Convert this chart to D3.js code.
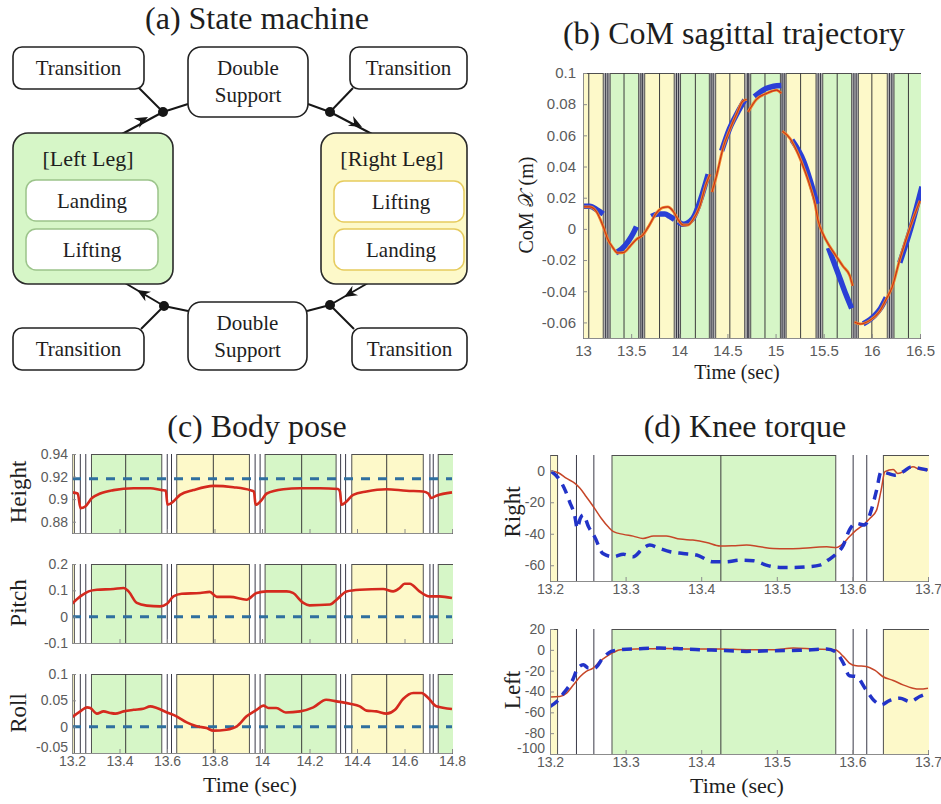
<!DOCTYPE html>
<html>
<head>
<meta charset="utf-8">
<script src="https://cdn.jsdelivr.net/npm/d3@7"></script>
<style>
  html, body { margin: 0; padding: 0; background: #fff; }
  svg { display: block; }
</style>
</head>
<body>
<svg id="fig" width="941" height="804"></svg>
<script>
// ---------------- gait phase timing (shared by panels b, c, d) ----------------
const phaseLeg   = ["right", "left", "right", "left", "right", "left", "right", "left", "right", "left"];
const phaseStart = [12.900, 13.282, 13.641, 14.013, 14.378, 14.742, 15.110, 15.490, 15.860, 16.230];
const phaseEnd   = [13.210, 13.578, 13.947, 14.312, 14.679, 15.050, 15.420, 15.790, 16.160, 16.600];
const phaseMid   = [13.060, 13.426, 13.795, 14.167, 14.525, 14.890, 15.260, 15.640, 16.000, 16.380];
const switchTimes = [13.235, 13.258, 13.601, 13.619, 13.971, 13.992, 14.331, 14.352, 14.707, 14.721,
                     15.068, 15.090, 15.443, 15.467, 15.813, 15.837, 16.183, 16.207];

// ---------------- (a) state machine labels ----------------
const transitionLabel = "Transition";
const doubleSupportLines = ["Double", "Support"];
const leftLegLabel = "[Left Leg]";
const rightLegLabel = "[Right Leg]";
const leftLegStates = ["Landing", "Lifting"];
const rightLegStates = ["Lifting", "Landing"];

// ---------------- (b) CoM sagittal trajectory ----------------
const comXTicks = [13, 13.5, 14, 14.5, 15, 15.5, 16, 16.5];
const comXTickLabels = ["13", "13.5", "14", "14.5", "15", "15.5", "16", "16.5"];
const comYTicks = [0.1, 0.08, 0.06, 0.04, 0.02, 0, -0.02, -0.04, -0.06];
const comYTickLabels = ["0.1", "0.08", "0.06", "0.04", "0.02", "0", "-0.02", "-0.04", "-0.06"];
// planned CoM path, one list per step
const comPlanned = [
  [[13.00, .0141], [13.07, .0141], [13.14, .0110], [13.21, .0015], [13.26, -.0070], [13.31, -.0120],
   [13.36, -.0154], [13.42, -.0152], [13.49, -.0110], [13.55, -.0070], [13.62, -.0040], [13.69, .0025],
   [13.76, .0100], [13.83, .0137], [13.88, .0141], [13.94, .0110], [13.99, .0057], [14.04, .0025],
   [14.09, .0025], [14.14, .0057], [14.21, .0140], [14.28, .0290], [14.32, .0350]],
  [[14.34, .0236], [14.39, .0350], [14.455, .0520], [14.52, .0630], [14.59, .0730], [14.66, .0820], [14.70, .0830]],
  [[14.715, .0750], [14.80, .0830], [14.91, .0870], [15.01, .0890], [15.06, .0870]],
  [[15.07, .0627], [15.15, .0580], [15.22, .0500], [15.29, .0395], [15.36, .0270], [15.41, .0160],
   [15.44, .0057], [15.49, -.0030], [15.56, -.0110], [15.63, -.0175], [15.70, -.0240], [15.77, -.0300], [15.80, -.0365]],
  [[15.82, -.0597], [15.88, -.0610], [15.98, -.0587], [16.08, -.0530], [16.15, -.0450], [16.21, -.0375],
   [16.29, -.0196], [16.40, .0015], [16.50, .0180]]
];
// measured CoM, one list per single-support window
const comMeasured = [
  [[13.00, .0145], [13.07, .0145], [13.15, .0120], [13.21, .0095]],
  [[13.34, -.0154], [13.40, -.0130], [13.47, -.0080], [13.52, -.0030], [13.555, .0015]],
  [[13.71, .0080], [13.78, .0095], [13.85, .0095], [13.90, .0080], [13.95, .0060]],
  [[13.99, .0046], [14.04, .0030], [14.14, .0067], [14.24, .0225], [14.30, .0350]],
  [[14.44, .0500], [14.52, .0640], [14.60, .0740], [14.68, .0827]],
  [[14.78, .0848], [14.90, .0900], [14.98, .0915], [15.06, .0920]],
  [[15.17, .0570], [15.29, .0437], [15.36, .0310], [15.43, .0160]],
  [[15.55, -.0122], [15.67, -.0320], [15.73, -.0420], [15.79, -.0510]],
  [[15.91, -.0610], [16.03, -.0555], [16.09, -.0510], [16.15, -.0440]],
  [[16.29, -.0217], [16.40, -.0006], [16.52, .0270]]
];

// ---------------- (c) body pose ----------------
const poseXTicks = [13.2, 13.4, 13.6, 13.8, 14, 14.2, 14.4, 14.6, 14.8];
const poseXTickLabels = ["13.2", "13.4", "13.6", "13.8", "14", "14.2", "14.4", "14.6", "14.8"];
const heightTicks = [0.94, 0.92, 0.9, 0.88];
const heightTickLabels = ["0.94", "0.92", "0.9", "0.88"];
const pitchTicks = [0.2, 0.1, 0, -0.1];
const pitchTickLabels = ["0.2", "0.1", "0", "-0.1"];
const rollTicks = [0.1, 0.05, 0, -0.05];
const rollTickLabels = ["0.1", "0.05", "0", "-0.05"];
const heightTarget = 0.918;
const pitchTarget = 0;
const rollTarget = 0;
const heightTrace = [
  [13.2, .906], [13.224, .905], [13.236, .892], [13.256, .8935], [13.284, .901], [13.319, .905], [13.375, .908],
  [13.459, .9097], [13.53, .9097], [13.578, .908], [13.595, .9076], [13.602, .895], [13.627, .898], [13.655, .9038],
  [13.711, .908], [13.795, .9118], [13.88, .9106], [13.95, .908], [13.966, .9068], [13.973, .895], [13.999, .8994],
  [14.02, .905], [14.09, .9088], [14.16, .9097], [14.244, .9097], [14.32, .909], [14.328, .9068], [14.335, .895],
  [14.356, .898], [14.384, .9038], [14.44, .9068], [14.524, .9088], [14.608, .9074], [14.678, .9068], [14.70, .905],
  [14.713, .901], [14.734, .903], [14.8, .906]
];
const pitchTrace = [
  [13.2, .049], [13.235, .077], [13.27, .096], [13.305, .1025], [13.375, .105], [13.417, .109], [13.438, .096],
  [13.473, .052], [13.515, .042], [13.571, .039], [13.6, .049], [13.627, .077], [13.662, .087], [13.74, .09],
  [13.78, .094], [13.81, .075], [13.866, .075], [13.935, .0645], [13.977, .09], [14.02, .096], [14.104, .096],
  [14.13, .09], [14.174, .052], [14.2, .043], [14.286, .046], [14.314, .0645], [14.356, .096], [14.412, .1025],
  [14.51, .105], [14.552, .096], [14.58, .109], [14.6, .125], [14.622, .125], [14.663, .096], [14.705, .077],
  [14.747, .077], [14.8, .071]
];
const rollTrace = [
  [13.2, .018], [13.235, .029], [13.263, .0367], [13.277, .0354], [13.305, .0247], [13.333, .029], [13.361, .026],
  [13.382, .0247], [13.417, .029], [13.459, .032], [13.5, .034], [13.53, .0386], [13.557, .0354], [13.6, .027],
  [13.64, .0196], [13.683, .008], [13.725, .0006], [13.767, -.0026], [13.795, -.0076], [13.85, -.0057],
  [13.894, .0006], [13.935, .0196], [13.977, .032], [14.006, .04], [14.027, .0354], [14.06, .0354], [14.1, .027],
  [14.16, .029], [14.216, .0367], [14.27, .051], [14.314, .048], [14.37, .0437], [14.412, .0386], [14.44, .0304],
  [14.482, .029], [14.524, .0247], [14.56, .032], [14.594, .0525], [14.637, .064], [14.672, .064], [14.7, .0544],
  [14.734, .0386], [14.8, .0335]
];

// ---------------- (d) knee torque ----------------
const kneeXTicks = [13.2, 13.3, 13.4, 13.5, 13.6, 13.7];
const kneeXTickLabels = ["13.2", "13.3", "13.4", "13.5", "13.6", "13.7"];
const rightKneeTicks = [0, -20, -40, -60];
const rightKneeTickLabels = ["0", "-20", "-40", "-60"];
const leftKneeTicks = [20, 0, -20, -40, -60, -80, -100];
const leftKneeTickLabels = ["20", "0", "-20", "-40", "-60", "-80", "-100"];
const rightKneeMeasured = [
  [13.2, 0], [13.211, -1.3], [13.222, -4.9], [13.233, -8], [13.24, -11.2], [13.248, -16.5], [13.259, -23.9],
  [13.268, -30.3], [13.277, -35.6], [13.284, -38.7], [13.297, -40.4], [13.31, -41.5], [13.323, -43], [13.337, -41.5],
  [13.354, -41.5], [13.372, -43.4], [13.389, -44], [13.407, -45.5], [13.425, -47.8], [13.442, -47.6], [13.46, -47.2],
  [13.478, -48.3], [13.495, -49.3], [13.513, -49.5], [13.53, -49.3], [13.548, -48.7], [13.566, -48.3],
  [13.579, -48.7], [13.588, -46.1], [13.596, -41.9], [13.605, -37.7], [13.614, -34.5], [13.623, -30.3],
  [13.632, -25], [13.638, -12.3], [13.643, -0.6], [13.654, 0.8], [13.66, -1.7], [13.671, 0.4], [13.68, 2.5],
  [13.689, 0.8], [13.7, 0.4]
];
const rightKneeCommand = [
  [13.202, -0.6], [13.213, -5.9], [13.22, -12.3], [13.226, -19.7], [13.233, -29.2], [13.236, -36.6], [13.24, -30.3],
  [13.244, -28.1], [13.251, -35.6], [13.259, -41.9], [13.27, -52.5], [13.284, -54.6], [13.297, -53], [13.31, -54.6],
  [13.323, -49.3], [13.332, -47.2], [13.345, -49.3], [13.359, -51.4], [13.376, -52.5], [13.394, -53.5],
  [13.416, -57.8], [13.433, -57.8], [13.451, -56.7], [13.469, -57.1], [13.486, -59.9], [13.504, -61.4],
  [13.522, -61.4], [13.539, -61], [13.557, -59.9], [13.568, -56.7], [13.577, -53.5], [13.588, -47.2],
  [13.596, -37.7], [13.605, -33.4], [13.616, -34.5], [13.625, -25], [13.632, -12.3], [13.638, -0.6],
  [13.647, -1.7], [13.656, -2.8], [13.667, -0.6], [13.678, 2.5], [13.689, 1.5], [13.7, 0.4]
];
const leftKneeMeasured = [
  [13.2, -45.4], [13.213, -44.8], [13.222, -41.6], [13.231, -33.6], [13.24, -25.6], [13.248, -20.7], [13.257, -17.5],
  [13.266, -11.1], [13.275, -6.3], [13.284, -2.5], [13.293, 0.1], [13.328, 1.1], [13.354, 1.4], [13.39, 0.8],
  [13.425, 0.8], [13.46, 0.1], [13.495, 0.1], [13.522, 1.7], [13.548, 0.8], [13.577, 0.1], [13.588, -6.3],
  [13.596, -12.7], [13.605, -15.3], [13.618, -15.9], [13.63, -19.8], [13.64, -25.6], [13.654, -29.4],
  [13.667, -33.6], [13.68, -36.8], [13.689, -37.7], [13.7, -36.8]
];
const leftKneeCommand = [
  [13.2, -54.4], [13.209, -49.6], [13.218, -41.6], [13.229, -30.4], [13.237, -17.5], [13.244, -14.3],
  [13.251, -17.5], [13.259, -17.5], [13.27, -7.9], [13.281, -1.5], [13.293, 0.1], [13.319, 1.1], [13.345, 1.7],
  [13.372, 1.1], [13.398, 0.1], [13.425, -0.5], [13.46, -1.5], [13.495, -0.8], [13.53, -0.5], [13.566, 0.8],
  [13.577, -1.5], [13.588, -12.7], [13.596, -24.9], [13.605, -25.6], [13.618, -38.4], [13.63, -49.6],
  [13.638, -52.8], [13.649, -48.7], [13.663, -46.4], [13.676, -49.6], [13.689, -44.8], [13.7, -41.6]
];

// ---------------- drawing ----------------
const SERIF = "'Liberation Serif', 'Times New Roman', serif";
const SANS = "'Liberation Sans', Arial, sans-serif";
const legFill = { left: "#d6f6c7", right: "#fdf9c9" };
const svg = d3.select("#fig");
svg.append("rect").attr("width", 941).attr("height", 804).attr("fill", "#fff");

function label(x, y, str, size, opts = {}) {
  const t = svg.append("text")
    .attr("x", x).attr("y", y)
    .attr("font-family", opts.family || SERIF)
    .attr("font-size", size)
    .attr("fill", opts.fill || "#1e1e1e")
    .attr("text-anchor", "middle")
    .text(str);
  if (opts.rotate) t.attr("transform", `rotate(-90,${x},${y})`);
  return t;
}

// ===== (a) State machine =====
label(257, 29, "(a) State machine", 32);
const gA = svg.append("g");
const ink = "#161616";
const links = [
  [[188, 104], [163, 112]], [[139, 88], [163, 112]], [[122, 134], [163, 112]],
  [[308, 104], [330, 112]], [[353, 88], [330, 112]], [[330, 112], [372, 134]],
  [[368, 283], [330, 305]], [[330, 305], [307, 311]], [[330, 305], [354, 329]],
  [[188, 311], [164, 306]], [[164, 306], [125, 283]], [[141, 329], [164, 306]]
];
gA.selectAll("line.link").data(links).join("line").attr("class", "link")
  .attr("x1", d => d[0][0]).attr("y1", d => d[0][1])
  .attr("x2", d => d[1][0]).attr("y2", d => d[1][1])
  .attr("stroke", ink).attr("stroke-width", 2);

function box(x, y, w, h, r, fill, stroke, sw) {
  gA.append("rect").attr("x", x).attr("y", y).attr("width", w).attr("height", h)
    .attr("rx", r).attr("ry", r).attr("fill", fill).attr("stroke", stroke).attr("stroke-width", sw);
}
function boxText(cx, cy, str, size) {
  gA.append("text").attr("x", cx).attr("y", cy).attr("dy", "0.35em")
    .attr("text-anchor", "middle").attr("font-family", SERIF).attr("font-size", size)
    .attr("fill", "#1e1e1e").text(str);
}
// transition boxes
[[13, 47, 131, 42], [350, 47, 117, 42], [13, 328, 131, 42], [352, 328, 115, 42]].forEach(b => {
  box(b[0], b[1], b[2], b[3], 9, "#fff", "#222", 1.6);
  boxText(b[0] + b[2] / 2, b[1] + b[3] / 2, transitionLabel, 21);
});
// double support boxes
[[188, 47, 120, 70], [188, 302, 119, 68]].forEach(b => {
  box(b[0], b[1], b[2], b[3], 13, "#fff", "#222", 1.6);
  boxText(b[0] + b[2] / 2, b[1] + 21, doubleSupportLines[0], 21);
  boxText(b[0] + b[2] / 2, b[1] + 48, doubleSupportLines[1], 21);
});
// leg super-states
box(13, 133, 160, 151, 15, legFill.left, "#2a2a2a", 1.6);
box(321, 133, 146, 151, 15, legFill.right, "#2a2a2a", 1.6);
boxText(88, 158, leftLegLabel, 22);
boxText(392, 158, rightLegLabel, 22);
[[26, 180], [26, 229]].forEach((p, i) => {
  box(p[0], p[1], 132, 41, 10, "#fff", "#9cc48b", 1.5);
  boxText(p[0] + 66, p[1] + 20.5, leftLegStates[i], 21);
});
[[334, 181], [334, 229]].forEach((p, i) => {
  box(p[0], p[1], 130, 41, 10, "#fff", "#e6cb5e", 1.5);
  boxText(p[0] + 67, p[1] + 20.5, rightLegStates[i], 21);
});
// junction dots
[[163, 112], [330, 112], [330, 305], [164, 306]].forEach(p => {
  gA.append("circle").attr("cx", p[0]).attr("cy", p[1]).attr("r", 5).attr("fill", ink);
});
// arrowheads: tip point and the segment direction they follow
function arrowHead(tip, from, to) {
  const dx = to[0] - from[0], dy = to[1] - from[1];
  const len = Math.hypot(dx, dy);
  const ux = dx / len, uy = dy / len, nx = -uy, ny = ux;
  const L = 13, W = 5.5, N = 4;
  const pts = [
    [tip[0], tip[1]],
    [tip[0] - L * ux + W * nx, tip[1] - L * uy + W * ny],
    [tip[0] - (L - N) * ux, tip[1] - (L - N) * uy],
    [tip[0] - L * ux - W * nx, tip[1] - L * uy - W * ny]
  ];
  gA.append("path").attr("d", "M" + pts.map(p => p.join(",")).join("L") + "Z").attr("fill", ink);
}
arrowHead([148, 117], [122, 134], [163, 112]);
arrowHead([362, 127], [330, 112], [372, 134]);
arrowHead([344, 297], [368, 283], [330, 305]);
arrowHead([137, 290], [164, 306], [125, 283]);

// ===== time-series axes helper =====
function makeAxes(cfg) {
  const g = svg.append("g").attr("transform", `translate(${cfg.left},${cfg.top})`);
  const x = d3.scaleLinear().domain(cfg.xDomain).range([0, cfg.width]);
  const y = d3.scaleLinear().domain(cfg.yDomain).range([cfg.height, 0]);
  const id = "clip-" + cfg.name;
  g.append("clipPath").attr("id", id).append("rect")
    .attr("x", 0).attr("y", -1).attr("width", cfg.width + 1).attr("height", cfg.height + 2);
  const plot = g.append("g").attr("clip-path", `url(#${id})`);
  const idx = d3.range(phaseLeg.length);
  if (cfg.gapFill) {
    plot.selectAll("rect.gap").data(idx.slice(0, -1)).join("rect").attr("class", "gap")
      .attr("x", i => x(phaseEnd[i])).attr("width", i => x(phaseStart[i + 1]) - x(phaseEnd[i]))
      .attr("y", 0).attr("height", cfg.height).attr("fill", cfg.gapFill);
  }
  plot.selectAll("rect.band").data(idx).join("rect").attr("class", "band")
    .attr("x", i => x(phaseStart[i])).attr("y", 0.5)
    .attr("width", i => x(phaseEnd[i]) - x(phaseStart[i])).attr("height", cfg.height)
    .attr("fill", i => legFill[phaseLeg[i]]).attr("stroke", "#505050").attr("stroke-width", 1);
  plot.selectAll("line.mid").data(phaseMid).join("line").attr("class", "mid")
    .attr("x1", d => x(d)).attr("x2", d => x(d)).attr("y1", 0).attr("y2", cfg.height)
    .attr("stroke", "#3c3c3c").attr("stroke-width", 1);
  plot.selectAll("line.sw").data(switchTimes).join("line").attr("class", "sw")
    .attr("x1", d => x(d)).attr("x2", d => x(d)).attr("y1", 0).attr("y2", cfg.height)
    .attr("stroke", "#3a3a48").attr("stroke-width", 1);
  return { g, plot, x, y, cfg };
}
function finishAxes(ax) {
  const cfg = ax.cfg;
  const ya = d3.axisLeft(ax.y).tickValues(cfg.yTicks).tickFormat((d, i) => cfg.yLabels[i])
    .tickSizeInner(-4).tickSizeOuter(0).tickPadding(cfg.yPad);
  const xa = d3.axisBottom(ax.x).tickValues(cfg.xTicks)
    .tickFormat((d, i) => cfg.xLabels ? cfg.xLabels[i] : "")
    .tickSizeInner(-4).tickSizeOuter(0).tickPadding(cfg.xPad);
  const yg = ax.g.append("g").call(ya);
  const xg = ax.g.append("g").attr("transform", `translate(0,${cfg.height})`).call(xa);
  [yg, xg].forEach(s => {
    s.attr("font-family", SANS).attr("font-size", cfg.fontSize);
    s.select(".domain").attr("stroke", "#8c8c8c");
    s.selectAll(".tick line").attr("stroke", "#8c8c8c");
    s.selectAll("text").attr("fill", "#5b5b5b");
  });
  // lift the lowest y label a little so it clears the first time label below it
  if (cfg.liftLowest) {
    yg.selectAll(".tick text").filter(d => d === d3.min(cfg.yTicks)).attr("y", -cfg.liftLowest);
  }
}
function drawLine(ax, pts, style) {
  ax.plot.append("path").datum(pts)
    .attr("d", d3.line().x(d => ax.x(d[0])).y(d => ax.y(d[1])).curve(d3.curveMonotoneX))
    .attr("fill", "none").attr("stroke", style.stroke).attr("stroke-width", style.width)
    .attr("stroke-dasharray", style.dash || null)
    .attr("stroke-linecap", style.cap || "butt").attr("stroke-linejoin", "round");
}
function drawRef(ax, value, style) {
  ax.plot.append("line")
    .attr("x1", 0).attr("x2", ax.cfg.width).attr("y1", ax.y(value)).attr("y2", ax.y(value))
    .attr("stroke", style.stroke).attr("stroke-width", style.width).attr("stroke-dasharray", style.dash);
}

// ===== (b) CoM sagittal trajectory =====
label(734, 44, "(b) CoM sagittal trajectory", 32);
const axB = makeAxes({
  name: "com", left: 583, top: 73, width: 337, height: 265,
  xDomain: [13, 16.5], yDomain: [-0.07, 0.1],
  xTicks: comXTicks, xLabels: comXTickLabels, yTicks: comYTicks, yLabels: comYTickLabels,
  fontSize: 15, yPad: 7, xPad: 7, gapFill: "#b2b2b2"
});
comMeasured.forEach(seg => drawLine(axB, seg, { stroke: "#2a3fd6", width: 5.5 }));
comPlanned.forEach(seg => drawLine(axB, seg, { stroke: "#f08a2a", width: 2.8 }));
comPlanned.forEach(seg => drawLine(axB, seg, { stroke: "#c8321e", width: 1.1 }));
finishAxes(axB);
label(737, 379, "Time (sec)", 20);
label(533, 205, "CoM 𝒳 (m)", 20, { rotate: true });

// ===== (c) Body pose =====
label(257, 437, "(c) Body pose", 32);
const poseRows = [
  { name: "height", top: 454, dom: [0.87, 0.94], ticks: heightTicks, labels: heightTickLabels,
    trace: heightTrace, target: heightTarget, title: "Height", ty: 492 },
  { name: "pitch", top: 564, dom: [-0.1, 0.2], ticks: pitchTicks, labels: pitchTickLabels,
    trace: pitchTrace, target: pitchTarget, title: "Pitch", ty: 603 },
  { name: "roll", top: 674, dom: [-0.05, 0.1], ticks: rollTicks, labels: rollTickLabels,
    trace: rollTrace, target: rollTarget, title: "Roll", ty: 713 }
];
poseRows.forEach((row, i) => {
  const ax = makeAxes({
    name: row.name, left: 72, top: row.top, width: 380, height: 79,
    xDomain: [13.2, 14.8], yDomain: row.dom,
    xTicks: poseXTicks, xLabels: i === 2 ? poseXTickLabels : null,
    yTicks: row.ticks, yLabels: row.labels, fontSize: 14, yPad: 4, xPad: 3,
    liftLowest: i === 2 ? 6 : 0
  });
  drawRef(ax, row.target, { stroke: "#2f6f9f", width: 3, dash: "9,8" });
  drawLine(ax, row.trace, { stroke: "#d42a1e", width: 2.6 });
  finishAxes(ax);
  label(26, row.ty, row.title, 23, { rotate: true });
});
label(250, 792, "Time (sec)", 22);

// ===== (d) Knee torque =====
label(745, 437, "(d) Knee torque", 32);
const kneeRows = [
  { name: "kneeR", top: 455, height: 126, dom: [-70, 10], ticks: rightKneeTicks, labels: rightKneeTickLabels,
    meas: rightKneeMeasured, cmd: rightKneeCommand, title: "Right", ty: 512, lift: 0 },
  { name: "kneeL", top: 629, height: 125, dom: [-100, 20], ticks: leftKneeTicks, labels: leftKneeTickLabels,
    meas: leftKneeMeasured, cmd: leftKneeCommand, title: "Left", ty: 690, lift: 6 }
];
kneeRows.forEach(row => {
  const ax = makeAxes({
    name: row.name, left: 550, top: row.top, width: 378, height: row.height,
    xDomain: [13.2, 13.7], yDomain: row.dom,
    xTicks: kneeXTicks, xLabels: kneeXTickLabels,
    yTicks: row.ticks, yLabels: row.labels, fontSize: 14, yPad: 5, xPad: 3,
    liftLowest: row.lift
  });
  drawLine(ax, row.meas, { stroke: "#c64628", width: 1.5 });
  drawLine(ax, row.cmd, { stroke: "#2233c8", width: 3.5, dash: "10,7" });
  finishAxes(ax);
  label(520, row.ty, row.title, 23, { rotate: true });
});
label(737, 793, "Time (sec)", 22);
</script>
</body>
</html>
